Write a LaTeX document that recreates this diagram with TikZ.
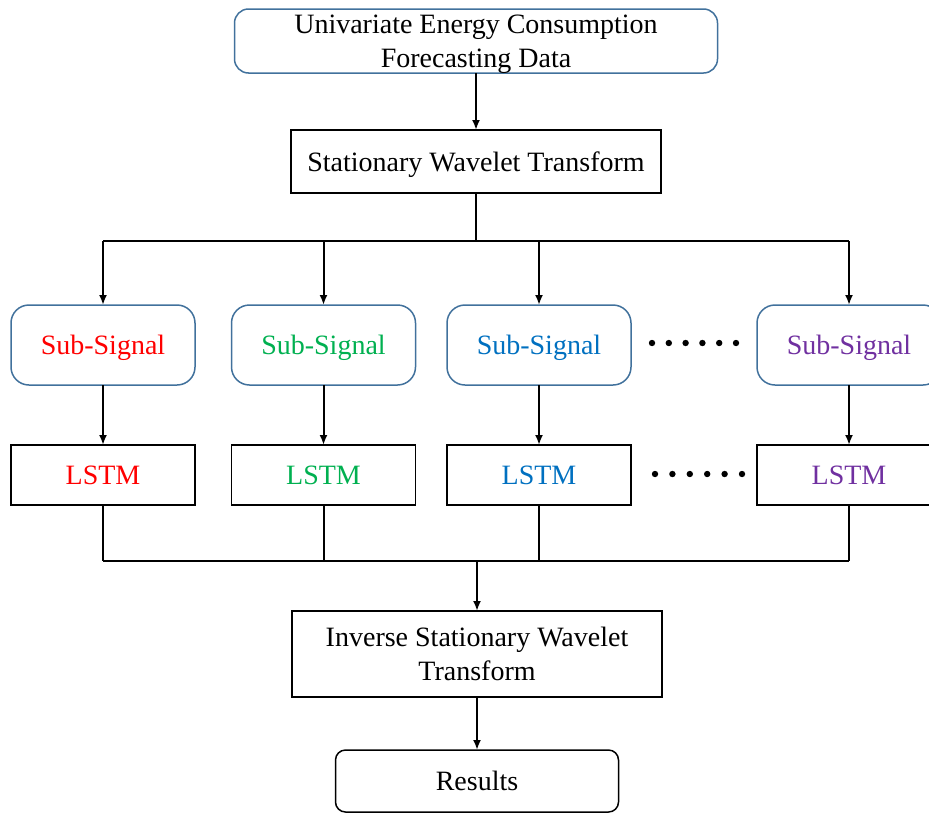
\documentclass[tikz,border=0pt]{standalone}
\usepackage{fontspec}
\setmainfont{Liberation Serif}
\definecolor{boxblue}{RGB}{65, 113, 156}
\definecolor{sigred}{RGB}{255, 0, 0}
\definecolor{siggreen}{RGB}{0, 176, 80}
\definecolor{sigblue}{RGB}{0, 112, 192}
\definecolor{sigpurple}{RGB}{112, 48, 160}
\usepackage{tikz}
\usetikzlibrary{arrows, arrows.meta, shapes, positioning, calc}

\tikzset{
	txt/.style={font=\fontsize{14}{17}\selectfont, inner sep=0pt, outer sep=0pt, align=center, text depth=0pt},
	roundbox/.style={txt, draw=boxblue, line width=0.75pt, rounded corners=9pt},
	plainbox/.style={txt, draw=black, line width=0.75pt},
	link/.style={line width=1pt},
	arr/.style={link, -{Latex[length=5pt,width=4pt]}}
}

\begin{document}
\begin{tikzpicture}[x=0.5pt,y=-0.5pt]
				\useasboundingbox (0,0) rectangle (929,814);
				
				\draw (476,41)    node (data) [roundbox,rounded corners=7pt,minimum width=241.5pt,minimum height=32pt] {Univariate Energy Consumption\\Forecasting Data};
				
				\draw (476,161.5) node (swt) [plainbox,minimum width=185pt,minimum height=31.5pt] {Stationary Wavelet Transform};
				
				\node foreach \i/\x/\c in {1/103/sigred,2/323.5/siggreen,3/539/sigblue,4/849/sigpurple}
				(sub\i) [roundbox,text=\c,minimum width=92pt,minimum height=40pt] at (\x,345) {Sub-Signal};
				
				\node foreach \i/\x/\c in {1/103/sigred,2/323.5/siggreen,3/539/sigblue,4/849/sigpurple}
				(lstm\i) [plainbox,text=\c,minimum width=92pt,minimum height=30pt] at (\x,475) {LSTM};
				
				\draw (477,654)   node (inv) [plainbox,minimum width=185pt,minimum height=43pt] {Inverse Stationary Wavelet\\Transform};
				
				\draw (477,781)   node (res) [plainbox,rounded corners=5pt,minimum width=141.5pt,minimum height=31pt] {Results};
				
				\coordinate (split) at (476,241);
				\coordinate (join)  at (477,561);
				
				\draw[arr]  (data) -- (swt);
				\draw[link] (swt.south) -- (split);
				\draw[link] (sub1 |- split) -- (sub4 |- split);
				\foreach \i in {1,...,4}
				\draw[arr]  (sub\i |- split) -- (sub\i.north);
				
				\foreach \i in {1,...,4}
				\draw[arr]  (sub\i.south) -- (lstm\i.north);
				
				\foreach \i in {1,...,4}
				\draw[link] (lstm\i.south) -- (lstm\i |- join);
				\draw[link] (lstm1 |- join) -- (lstm4 |- join);
				\draw[arr]  (join) -- (inv.north);
				
				\draw[arr]  (inv) -- (res);
				
				% dots between columns
				\fill foreach \k in {0,...,5} {(652+\k*16.8,343) circle (1.6pt)};
				\fill foreach \k in {0,...,5} {(655+\k*17.4,474) circle (1.6pt)};
			\end{tikzpicture}
\end{document}
